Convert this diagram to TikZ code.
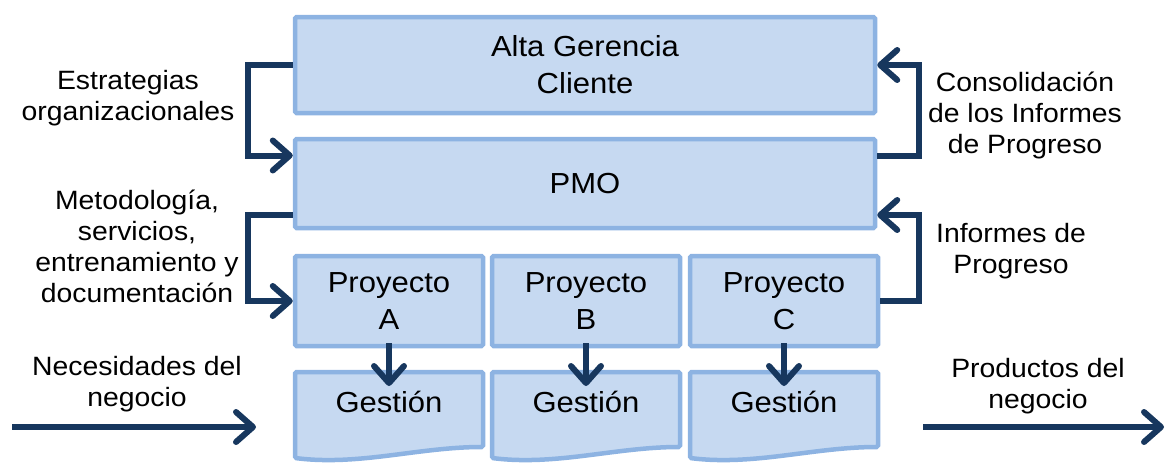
\documentclass[tikz,border=0pt]{standalone}
\usepackage{fontspec}
\setmainfont{Liberation Sans}[FakeStretch=1.07]
\usetikzlibrary{arrows.meta,positioning}

\definecolor{boxfill}{RGB}{198,217,241}
\definecolor{boxedge}{RGB}{141,179,226}
\definecolor{navy}{RGB}{23,55,94}

\newcommand{\boxfont}{\fontsize{29}{37}\selectfont}
\newcommand{\notefont}{\fontsize{26.5}{31}\selectfont}

\begin{document}
\begin{tikzpicture}[
x=1pt, y=-1pt,
font=\boxfont,
box/.style={draw=boxedge, fill=boxfill, line width=4.5pt, rounded corners=1.5pt, inner sep=0pt, align=center},
wide box/.style={box, minimum width=580pt},
proj box/.style={box, minimum width=188pt, minimum height=90pt},
doc box/.style={draw=boxedge, fill=boxfill, line width=4.5pt, rounded corners=1.5pt},
note/.style={font=\notefont, align=center, inner sep=0pt},
flow/.style={draw=navy, line width=6pt, -{Straight Barb[length=17pt,width=30pt,round]}},
]

\useasboundingbox (0,0) rectangle (1170,464);

\node[wide box, minimum height=96pt] (top) at (585,65) {Alta Gerencia\\Cliente};
\node[wide box, minimum height=89pt] (pmo) at (585,183.5) {\raisebox{-9pt}{PMO}};

\foreach \col/\cx in {A/389,B/586,C/784}{
  \node[proj box] (p\col) at (\cx,301) {Proyecto\\\col};
  \draw[doc box] (\cx-94,372) -- (\cx+94,372) -- (\cx+94,447)
    .. controls (\cx+30,447) and (\cx-30,466) .. (\cx-94,458) -- cycle;
  \node[inner sep=0pt] (g\col) at (\cx,402) {Gestión};
  \coordinate (t\col) at (\cx,386);
  \draw[flow] ([yshift=5pt]p\col.south) -- (t\col);
}

\draw[flow] (top.west) -- ++(-45,0) |- ([yshift=28pt]pmo.west);
\draw[flow] ([yshift=-31.5pt]pmo.west) -- ++(-45,0) |- (pA.west);
\draw[flow] ([yshift=28pt]pmo.east) -- ++(42,0) |- (top.east);
\draw[flow] (pC.east) -- ++(39,0) |- ([yshift=-31.5pt]pmo.east);

\node[note] (strat) at (128,98) {Estrategias\\organizacionales};
\node[note] (metod) at (137,246) {Metodología,\\servicios,\\entrenamiento y\\documentación};
\node[note] (consol) at (1025,115) {Consolidación\\de los Informes\\de Progreso};
\node[note] (inf) at (1011,251) {Informes de\\Progreso};
\node[note] (nec) at (137,384) {Necesidades del\\negocio};
\node[note] (prod) at (1038,386) {Productos del\\negocio};

\coordinate (in0) at (12,427);
\coordinate (in1) at (256,427);
\coordinate (out0) at (923,427);
\coordinate (out1) at (1164,427);
\draw[flow] (in0) -- (in1);
\draw[flow] (out0) -- (out1);

\end{tikzpicture}
\end{document}
